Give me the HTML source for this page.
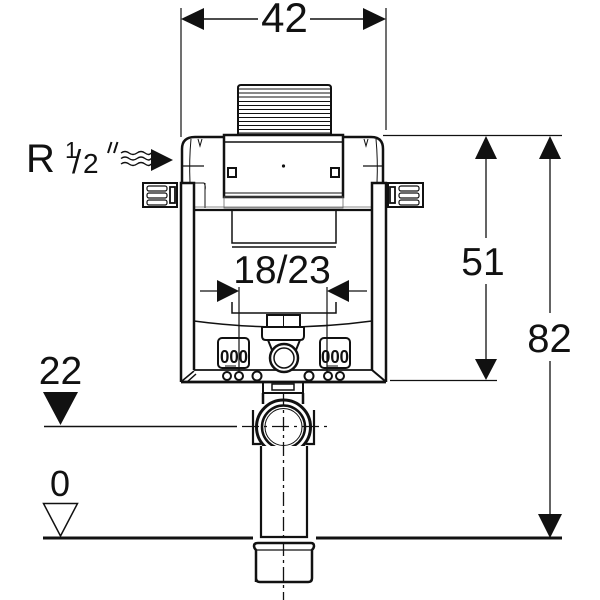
<!DOCTYPE html>
<html><head><meta charset="utf-8"><style>
html,body{margin:0;padding:0;background:#fff;}
svg{display:block;}
text{font-family:"Liberation Sans","DejaVu Sans",sans-serif;fill:#111;}
</style></head><body>
<svg width="600" height="600" viewBox="0 0 600 600" xmlns="http://www.w3.org/2000/svg">
<rect width="600" height="600" fill="#fff"/>
<g stroke="#111" fill="none" stroke-linecap="butt">
<line x1="181" y1="8" x2="181" y2="137" stroke-width="1.2"/>
<line x1="386" y1="8" x2="386" y2="130" stroke-width="1.2"/>
<line x1="195" y1="19" x2="258" y2="19" stroke-width="1.5"/>
<line x1="310" y1="19" x2="372" y2="19" stroke-width="1.5"/>
<line x1="383" y1="135.5" x2="562" y2="135.5" stroke-width="1.3"/>
<line x1="390" y1="380.5" x2="497" y2="380.5" stroke-width="1.3"/>
<line x1="486" y1="150" x2="486" y2="238" stroke-width="1.3"/>
<line x1="486" y1="284" x2="486" y2="365" stroke-width="1.3"/>
<line x1="550" y1="150" x2="550" y2="313" stroke-width="1.3"/>
<line x1="550" y1="361" x2="550" y2="520" stroke-width="1.3"/>
<path d="M238 136 V88 Q238 85 241 85 H328 Q331 85 331 88 V136" stroke-width="2"/>
<g stroke-width="1">
<line x1="239" y1="89" x2="330" y2="89"/><line x1="239" y1="93" x2="330" y2="93"/>
<line x1="239" y1="97" x2="330" y2="97"/><line x1="239" y1="101.5" x2="330" y2="101.5"/>
<line x1="239" y1="105.5" x2="330" y2="105.5"/><line x1="239" y1="109.5" x2="330" y2="109.5"/>
<line x1="239" y1="113.5" x2="330" y2="113.5"/><line x1="239" y1="117.5" x2="330" y2="117.5"/>
<line x1="239" y1="121.5" x2="330" y2="121.5"/><line x1="239" y1="125.5" x2="330" y2="125.5"/>
<line x1="239" y1="129.5" x2="330" y2="129.5"/><line x1="239" y1="133" x2="330" y2="133"/>
</g>
<path d="M182 183 V149 Q182 137 195 137 H224" stroke-width="2.5"/>
<path d="M343 137 H371 Q383 137 383 149 V183" stroke-width="2.5"/>
<path d="M191 139 Q189 160 190 183" stroke-width="1"/>
<path d="M376 139 Q378 160 377 183" stroke-width="1"/>
<line x1="183" y1="166" x2="204" y2="166" stroke-width="1.2"/>
<line x1="363" y1="166" x2="383" y2="166" stroke-width="1.2"/>
<path d="M198 139 L200 146 L202 139" stroke-width="1"/>
<path d="M364 139 L366 146 L368 139" stroke-width="1"/>
<path d="M194 183 H204 Q206 186 205 190 M205 183 V208" stroke-width="1"/>
<rect x="224" y="135" width="119" height="62" stroke-width="2.5" fill="#fff"/>
<line x1="225" y1="142" x2="342" y2="142" stroke-width="1.5"/>
<rect x="228" y="168" width="8" height="9" stroke-width="2"/>
<rect x="331" y="168" width="8" height="9" stroke-width="2"/>
<line x1="225" y1="193" x2="342" y2="193" stroke-width="1"/>
<rect x="224" y="197" width="119" height="11" stroke-width="0.8" stroke="#666"/>
<line x1="194" y1="207" x2="373" y2="207" stroke-width="0.8" stroke="#666"/>
<line x1="194" y1="210" x2="373" y2="210" stroke-width="2.2"/>
<rect x="232" y="210" width="104" height="33" stroke-width="1.5"/>
<line x1="232" y1="247" x2="336" y2="247" stroke-width="1.5"/>
<path d="M181 382 V183 H194 V370" stroke-width="2.5"/>
<path d="M386 382 V183 H372 V370" stroke-width="2.5"/>
<line x1="181" y1="382" x2="386" y2="382" stroke-width="2.8"/>
<line x1="194" y1="370" x2="372" y2="370" stroke-width="1.8"/>
<path d="M182 381 L194 371 M187 382 L196 374" stroke-width="1.5"/>
<path d="M372 370 L385 381" stroke-width="2"/>
<rect x="143" y="183" width="34" height="24" stroke-width="2" fill="#fff"/>
<rect x="147" y="186" width="20" height="5" rx="2" stroke-width="1.2"/>
<rect x="147" y="193" width="20" height="5" rx="2" stroke-width="1.2"/>
<rect x="147" y="200" width="20" height="5" rx="2" stroke-width="1.2"/>
<rect x="170" y="187" width="5" height="16" stroke-width="1.8"/>
<rect x="388" y="183" width="35" height="24" stroke-width="2" fill="#fff"/>
<rect x="399" y="186" width="20" height="5" rx="2" stroke-width="1.2"/>
<rect x="399" y="193" width="20" height="5" rx="2" stroke-width="1.2"/>
<rect x="399" y="200" width="20" height="5" rx="2" stroke-width="1.2"/>
<rect x="390" y="187" width="5" height="16" stroke-width="1.8"/>
<path d="M232 302 V313 H336 V302" stroke-width="1.5"/>
<line x1="200" y1="291" x2="218" y2="291" stroke-width="1.3"/>
<line x1="349" y1="291" x2="367" y2="291" stroke-width="1.3"/>
<line x1="239" y1="287" x2="239" y2="372" stroke-width="1.2"/>
<line x1="327" y1="287" x2="327" y2="372" stroke-width="1.2"/>
<path d="M194 321 Q283 333 372 321" stroke-width="1.5"/>
<rect x="218" y="338" width="31" height="30" rx="4" stroke-width="2"/>
<rect x="320" y="338" width="30" height="30" rx="4" stroke-width="2"/>
<line x1="225" y1="366" x2="236" y2="366" stroke-width="1"/>
<line x1="327" y1="366" x2="338" y2="366" stroke-width="1"/>
<rect x="267" y="315" width="33" height="12" stroke-width="2" fill="#fff"/>
<line x1="283.5" y1="315" x2="283.5" y2="327" stroke-width="1"/>
<path d="M262 327 H304 V336 Q304 340 300 340 H266 Q262 340 262 336 Z" stroke-width="2" fill="#fff"/>
<path d="M268 340 L272 350 M300 340 L296 350" stroke-width="2"/>
<circle cx="284" cy="358" r="14" stroke-width="2.5" fill="#fff"/>
<circle cx="284" cy="358" r="10" stroke-width="1.5"/>
<g stroke-width="2" fill="#fff">
<circle cx="227" cy="376" r="4"/><circle cx="239" cy="376" r="4"/><circle cx="257" cy="376" r="4.5"/>
<circle cx="309" cy="376" r="4.5"/><circle cx="328" cy="376" r="4"/><circle cx="340" cy="376" r="4"/>
</g>
<path d="M263 383 V393 H303 V383" stroke-width="2"/>
<rect x="272" y="384" width="22" height="6" stroke-width="1.5"/>
<path d="M263 393 V404 M303 393 V404" stroke-width="2.5"/>
<circle cx="283.5" cy="427" r="27" stroke-width="3" fill="#fff"/>
<circle cx="283.5" cy="427" r="21.5" stroke-width="2.5"/>
<circle cx="283.5" cy="427" r="18.5" stroke-width="1"/>
<path d="M253 410 V444 H261 M314 410 V444 H306" stroke-width="2.2"/>
<path d="M261 446 V537 H307 V446" stroke-width="2.2" fill="#fff"/>
<path d="M256 582 V550 Q254 548 254 546 Q254 543 258 543 H311 Q314 543 314 546 Q314 548 312 550 V578 Q312 582 308 582 H260 Q256 582 256 578 Z" stroke-width="2.5" fill="#fff"/>
<line x1="257" y1="550" x2="311" y2="550" stroke-width="1.2"/>
<line x1="283.5" y1="392" x2="283.5" y2="600" stroke-width="1.3" stroke-dasharray="14 4 3 4"/>
<line x1="242" y1="426.5" x2="327" y2="426.5" stroke-width="1.3" stroke-dasharray="17 5 3 5"/>
<line x1="44" y1="426.5" x2="237" y2="426.5" stroke-width="1.5"/>
<line x1="43" y1="538" x2="253" y2="538" stroke-width="3"/>
<line x1="316" y1="538" x2="562" y2="538" stroke-width="3"/>
<path d="M43.5 503.5 H77.5 L60.5 536 Z" stroke-width="1.5" fill="#fff"/>
<path d="M121 153 q4 -3 8 0 t8 0 t8 0 t6 0" stroke-width="1.4"/>
<path d="M121 158.5 q4 -3 8 0 t8 0 t8 0 t6 0" stroke-width="1.4"/>
<path d="M121 164 q4 -3 8 0 t8 0 t8 0 t6 0" stroke-width="1.4"/>
<path d="M108 153 L111.5 142 M114 153 L117.5 142" stroke-width="2"/>
</g>
<g fill="#111" stroke="none">
<polygon points="181,19 204,8 204,30"/>
<polygon points="386,19 363,8 363,30"/>
<polygon points="486,136 475,159 497,159"/>
<polygon points="486,380 475,359 497,359"/>
<polygon points="550,136 539,159 561,159"/>
<polygon points="550,538 538,514 562,514"/>
<polygon points="239,291 217,280 217,302"/>
<polygon points="327,291 349,280 349,302"/>
<polygon points="43,392 78,392 60.5,425"/>
<polygon points="151,149 173,160 151,171"/>
<circle cx="283.5" cy="166" r="1.6"/>
</g>
<text x="284.5" y="32" font-size="42" text-anchor="middle">42</text>
<text x="483" y="275" font-size="39" text-anchor="middle">51</text>
<text x="549.5" y="352" font-size="40" text-anchor="middle">82</text>
<text x="282" y="283" font-size="39" text-anchor="middle">18/23</text>
<text x="60.5" y="384" font-size="39" text-anchor="middle">22</text>
<text x="60" y="496" font-size="36" text-anchor="middle">0</text>
<text x="26" y="172" font-size="40">R</text>
<text x="65" y="158" font-size="23">1</text>
<text x="72" y="173" font-size="33">/</text>
<text x="83" y="173" font-size="28">2</text>
<text x="220" y="363" font-size="18" font-weight="bold" textLength="28" lengthAdjust="spacingAndGlyphs">000</text>
<text x="321" y="363" font-size="18" font-weight="bold" textLength="28" lengthAdjust="spacingAndGlyphs">000</text>
</svg>
</body></html>
